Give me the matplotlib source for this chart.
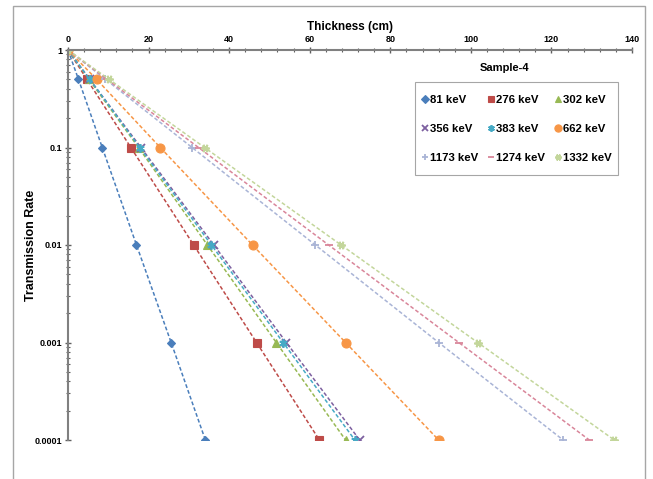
#!/usr/bin/env python3
# coding=utf-8

import matplotlib
matplotlib.use('Agg')
import matplotlib.pyplot as plt
from matplotlib.ticker import FixedLocator, MultipleLocator, LogLocator, NullFormatter

plt.rcParams['font.family'] = ['Liberation Sans', 'DejaVu Sans']
plt.rcParams['font.weight'] = 'bold'

# transmission levels and thickness (cm) for each energy
trans = [1, 0.5, 0.1, 0.01, 0.001, 0.0001]
labels = ['81 keV', '276 keV', '302 keV', '356 keV', '383 keV', '662 keV',
          '1173 keV', '1274 keV', '1332 keV']
t_81 = [0, 2.6, 8.5, 17.0, 25.6, 34.1]
t_276 = [0, 4.7, 15.6, 31.2, 46.8, 62.4]
t_302 = [0, 5.2, 17.5, 34.6, 51.7, 68.9]
t_356 = [0, 5.4, 18.1, 36.2, 54.2, 72.4]
t_383 = [0, 5.4, 17.8, 35.6, 53.4, 71.2]
t_662 = [0, 7.1, 22.9, 45.8, 68.9, 92.0]
t_1173 = [0, 9.3, 30.8, 61.4, 92.0, 122.9]
t_1274 = [0, 9.7, 32.4, 64.7, 97.0, 129.4]
t_1332 = [0, 10.2, 33.9, 67.8, 101.7, 135.6]
series = [t_81, t_276, t_302, t_356, t_383, t_662, t_1173, t_1274, t_1332]

colors = ['#4a7ebb', '#be4b48', '#98b954', '#7d60a0', '#46aac5', '#f79646',
          '#a9b4d6', '#d9869a', '#c3d69b']
markers = ['D', 's', '^', 'x', (6, 2, 0), 'o', '+', '_', (6, 2, 90)]
msizes = [4.5, 6, 6, 6, 6, 6.5, 6, 6, 6]

W, H = 653, 479
fig = plt.figure(figsize=(W / 100, H / 100), dpi=100)
# light grey outer frame like the original chart area
fig.patches.append(plt.Rectangle((13 / W, -0.01), (645 - 13) / W, 1 - 6 / H + 0.01,
                                 transform=fig.transFigure, fill=False,
                                 edgecolor='#a6a6a6', linewidth=1.0))
ax = fig.add_axes([68 / W, 1 - 440 / H, (632 - 68) / W, 390 / H])

handles = []
for xs, lab, c, m, ms in zip(series, labels, colors, markers, msizes):
    thin = m in ('x', '+', '_') or isinstance(m, tuple)
    ln, = ax.plot(xs, trans, linestyle=(0, (2.5, 1.5)), linewidth=1.1, color=c,
                  marker=m, markersize=ms, markeredgewidth=1.3 if thin else 0.8,
                  markeredgecolor=c, markerfacecolor=c, label=lab)
    handles.append(ln)

ax.set_yscale('log')
ax.set_ylim(1e-4, 1)
ax.set_xlim(0, 140)
ax.xaxis.tick_top()
ax.xaxis.set_label_position('top')
ax.xaxis.set_major_locator(MultipleLocator(20))
ax.xaxis.set_minor_locator(MultipleLocator(4))
ax.yaxis.set_major_locator(FixedLocator([1e-4, 1e-3, 1e-2, 1e-1, 1]))
ax.yaxis.set_minor_locator(LogLocator(base=10, subs=range(2, 10)))
ax.yaxis.set_minor_formatter(NullFormatter())
ax.set_yticklabels(['0.0001', '0.001', '0.01', '0.1', '1'])

for s in ('right', 'bottom'):
    ax.spines[s].set_visible(False)
for s in ('left', 'top'):
    ax.spines[s].set_color('#808080')
    ax.spines[s].set_linewidth(1.5)

ax.tick_params(axis='both', which='major', labelsize=6.5, length=4, width=1,
               color='#606060', direction='inout', pad=2)
ax.tick_params(axis='both', which='minor', length=2.5, width=0.8,
               color='#606060', direction='inout')

ax.set_xlabel('Thickness (cm)', fontsize=8.5, fontweight='bold', labelpad=4)
ax.set_ylabel('Transmission Rate', fontsize=9, fontweight='bold', labelpad=4)
ax.yaxis.set_label_coords(-31 / 564, 0.5)

fig.text(505 / W, 1 - 68 / H, 'Sample-4', fontsize=8, fontweight='bold',
         ha='center', va='center')

# legend frame drawn by hand so the padding can differ per side
fig.patches.append(plt.Rectangle((415 / W, 1 - 175 / H), (618 - 415) / W, 93 / H,
                                 transform=fig.transFigure, fill=False,
                                 edgecolor='#a6a6a6', linewidth=0.8, zorder=5))

# legend filled row by row (matplotlib fills columns first)
order = [0, 3, 6, 1, 4, 7, 2, 5, 8]
leg = ax.legend([handles[i] for i in order], [labels[i] for i in order],
                loc='upper left', bbox_to_anchor=(420 / W, 1 - 95 / H),
                bbox_transform=fig.transFigure,
                ncol=3, fontsize=8.2, frameon=False, markerscale=0.8,
                labelspacing=1.65, columnspacing=0.75, handlelength=0.8,
                handletextpad=0.05, borderpad=0, borderaxespad=0)
for h in leg.get_lines():
    h.set_linestyle('none')
for t in leg.get_texts():
    t.set_fontweight('bold')

fig.savefig('out.png', dpi=100)
